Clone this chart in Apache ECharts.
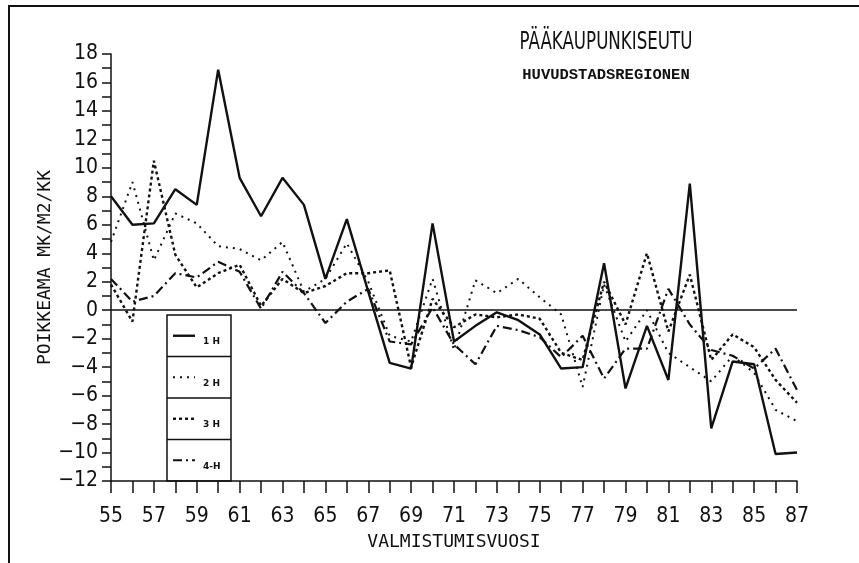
<!DOCTYPE html>
<html>
<head>
<meta charset="utf-8">
<script src="https://cdn.jsdelivr.net/npm/echarts@6/dist/echarts.min.js"></script>
<style>
    html, body { margin: 0; padding: 0; background: #fff; }
    #chart { width: 859px; height: 563px; }
</style>
</head>
<body>
<div id="chart"></div>
<script>
// vuodet 1955-1987 (kaksinumeroisina)
const years = [55, 56, 57, 58, 59, 60, 61, 62, 63, 64, 65, 66, 67, 68, 69, 70, 71,
               72, 73, 74, 75, 76, 77, 78, 79, 80, 81, 82, 83, 84, 85, 86, 87];

// poikkeama mk/m2/kk huoneluvun mukaan
const h1 = [8.0, 6.0, 6.1, 8.5, 7.4, 16.9, 9.3, 6.6, 9.3, 7.4, 2.2, 6.4, 1.3, -3.7, -4.1, 6.1, -2.2,
            -1.1, -0.15, -0.7, -1.7, -4.1, -4.0, 3.3, -5.5, -1.1, -4.9, 8.9, -8.3, -3.6, -3.8, -10.1, -10.0];
const h2 = [4.8, 9.0, 3.5, 6.8, 6.1, 4.5, 4.3, 3.5, 4.8, 1.3, 2.2, 4.7, 2.0, -1.8, -2.2, 2.2, -2.8,
            2.1, 1.2, 2.2, 0.9, -0.3, -5.4, 1.8, -2.2, 0.0, -3.0, -4.0, -5.0, -3.2, -4.4, -7.0, -7.8];
const h3 = [1.8, -0.8, 10.5, 3.9, 1.6, 2.6, 3.2, 0.3, 2.2, 1.2, 1.7, 2.6, 2.6, 2.8, -4.0, 0.8, -1.2,
            -0.3, -0.5, -0.3, -0.6, -3.0, -3.5, 2.0, -1.0, 4.0, -1.5, 2.5, -3.5, -1.7, -2.6, -4.9, -6.5];
const h4 = [2.2, 0.6, 1.0, 2.6, 2.3, 3.4, 2.7, 0.1, 2.7, 1.2, -0.9, 0.6, 1.5, -2.2, -2.4, 0.2, -2.4,
            -3.8, -1.1, -1.4, -1.9, -3.3, -1.8, -4.8, -2.7, -2.7, 1.5, -1.0, -2.8, -3.2, -4.1, -2.7, -5.6];

const seriesNames = ['1 H', '2 H', '3 H', '4-H'];
const seriesValues = [h1, h2, h3, h4];

const ink = '#111';
const dashes = [null, [2, 5], [3, 3], [9, 4, 2, 4]];
const widths = [2.4, 2, 2.4, 2.2];
const tickFont = '"Liberation Sans Narrow", "DejaVu Sans Condensed", Roboto';

const chart = echarts.init(document.getElementById('chart'), null, { renderer: 'canvas' });

const measure = (text, font) => {
    const ctx = document.createElement('canvas').getContext('2d');
    ctx.font = font;
    return ctx.measureText(text).width;
};

const titleFont = '24px "DejaVu Sans"';
const titleScale = 173 / measure('PÄÄKAUPUNKISEUTU', titleFont);

// joka toinen arvo näytetään, miinus pitkänä viivana
const everyOther = (odd) => (v) => {
    if (Math.abs(v % 2) !== (odd ? 1 : 0)) return '';
    return String(v).replace('-', '\u2212');
};

const buildSeries = () => seriesValues.map((vals, i) => ({
    name: seriesNames[i],
    type: 'line',
    showSymbol: false,
    silent: true,
    data: years.map((y, k) => [y, vals[k]]),
    lineStyle: {
        color: ink,
        width: widths[i],
        type: dashes[i] ? dashes[i] : 'solid'
    },
    ...(i === 0 ? {
        markLine: {
            silent: true,
            symbol: 'none',
            label: { show: false },
            lineStyle: { color: ink, width: 1.5, type: 'solid' },
            data: [{ yAxis: 0 }]
        }
    } : {})
}));

const buildLegend = () => {
    const x0 = 167, y0 = 315, w = 64, cell = 41.5;
    const kids = [{
        type: 'rect',
        shape: { x: x0, y: y0, width: w, height: cell * 4 },
        style: { fill: '#fff', stroke: ink, lineWidth: 1.5 }
    }];
    seriesNames.forEach((name, i) => {
        const cy = y0 + cell * i + cell / 2;
        if (i > 0) {
            kids.push({
                type: 'line',
                shape: { x1: x0, y1: y0 + cell * i, x2: x0 + w, y2: y0 + cell * i },
                style: { stroke: ink, lineWidth: 1.5 }
            });
        }
        kids.push({
            type: 'line',
            shape: { x1: x0 + 6, y1: cy, x2: x0 + 28, y2: cy },
            style: { stroke: ink, lineWidth: widths[i], lineDash: dashes[i] || null }
        });
        kids.push({
            type: 'text',
            x: x0 + 36, y: cy + 6,
            style: {
                text: name,
                font: 'bold 9px "DejaVu Sans"',
                fill: ink,
                textAlign: 'left', align: 'left',
                textVerticalAlign: 'middle', verticalAlign: 'middle'
            }
        });
    });
    return { type: 'group', z: 50, children: kids };
};

chart.setOption({
    animation: false,
    backgroundColor: '#fff',
    grid: { left: 111, top: 54, right: 62, bottom: 82, containLabel: false },
    xAxis: {
        type: 'value',
        min: 55, max: 87, interval: 1,
        name: 'VALMISTUMISVUOSI',
        nameLocation: 'middle',
        nameGap: 52,
        nameTextStyle: { color: ink, fontSize: 18, fontFamily: '"DejaVu Sans Mono"' },
        axisLine: { show: true, onZero: false, lineStyle: { color: ink, width: 1.5 } },
        axisTick: { show: true, length: 12, lineStyle: { color: ink, width: 1.5 } },
        axisLabel: {
            margin: 25,
            color: ink,
            fontSize: 21,
            fontFamily: tickFont,
            showMinLabel: true,
            showMaxLabel: true,
            hideOverlap: false,
            formatter: everyOther(true)
        },
        splitLine: { show: false }
    },
    yAxis: {
        type: 'value',
        min: -12, max: 18, interval: 1,
        name: 'POIKKEAMA MK/M2/KK',
        nameLocation: 'middle',
        nameGap: 57,
        nameMoveOverlap: false,
        nameRotate: 90,
        nameTextStyle: { color: ink, fontSize: 18, fontFamily: '"DejaVu Sans Mono"' },
        axisLine: { show: true, onZero: false, lineStyle: { color: ink, width: 1.5 } },
        axisTick: { show: true, length: 9, lineStyle: { color: ink, width: 1.5 } },
        axisLabel: {
            margin: 13,
            color: ink,
            fontSize: 21,
            fontFamily: tickFont,
            showMinLabel: true,
            showMaxLabel: true,
            hideOverlap: false,
            formatter: everyOther(false)
        },
        splitLine: { show: false }
    },
    graphic: [
        {
            type: 'polyline',
            shape: { points: [[9, 563], [9, 6], [859, 6]] },
            style: { stroke: ink, lineWidth: 2, fill: null }
        },
        {
            type: 'text',
            x: 606, y: 43,
            scaleX: titleScale,
            style: {
                text: 'PÄÄKAUPUNKISEUTU',
                font: titleFont,
                fill: ink,
                textAlign: 'center', align: 'center',
                textVerticalAlign: 'middle', verticalAlign: 'middle'
            }
        },
        {
            type: 'text',
            x: 606, y: 75,
            style: {
                text: 'HUVUDSTADSREGIONEN',
                font: 'bold 15.5px "Liberation Mono"',
                fill: ink,
                textAlign: 'center', align: 'center',
                textVerticalAlign: 'middle', verticalAlign: 'middle'
            }
        },
        buildLegend()
    ],
    series: buildSeries()
});
</script>
</body>
</html>
